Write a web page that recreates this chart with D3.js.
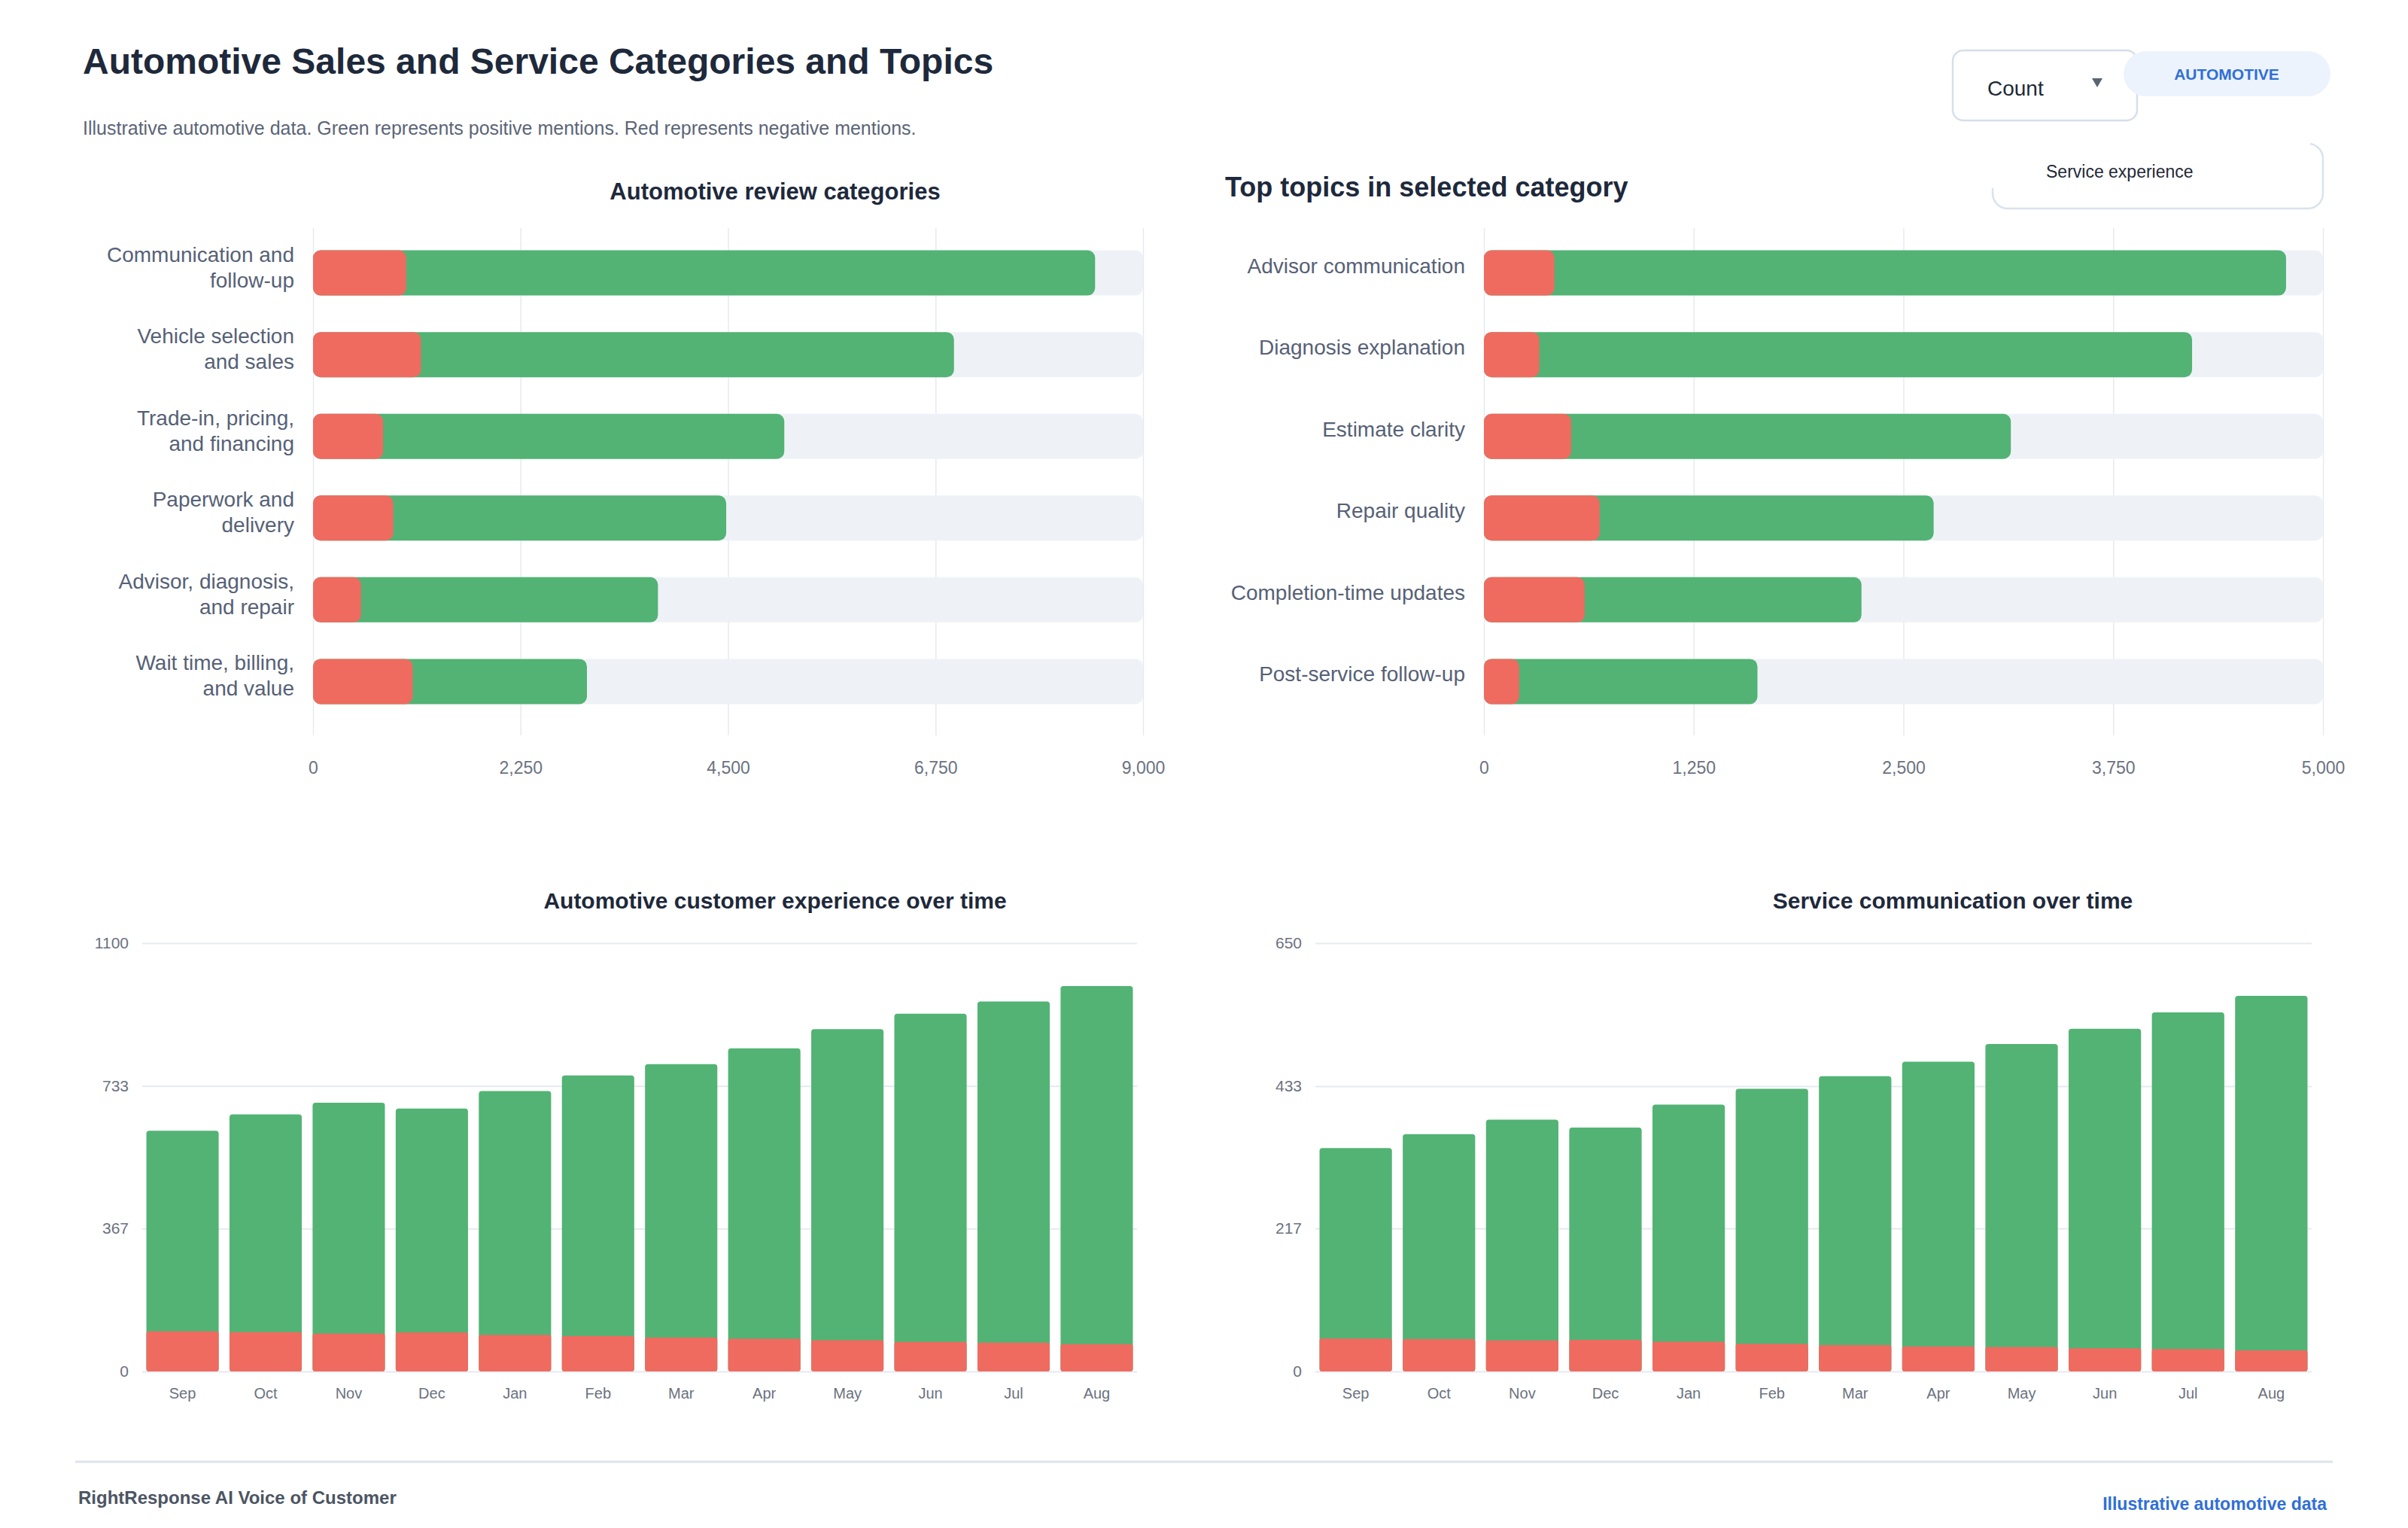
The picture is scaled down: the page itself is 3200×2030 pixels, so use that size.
<!DOCTYPE html>
<html>

<head>
    <meta charset="utf-8">
    <title>Automotive Sales and Service Categories and Topics</title>
    <style>
        body { margin: 0; background: #ffffff; }
        svg { display: block; font-family: "Liberation Sans", Arial, Helvetica, sans-serif; }
    </style>
</head>

<body>
    <svg id="painel" width="3200" height="2030"></svg>

    <script src="https://d3js.org/d3.v7.min.js"></script>
    <script>
        // categorias (grafico superior esquerdo)
        var categorias = [
            "Communication and\nfollow-up",
            "Vehicle selection\nand sales",
            "Trade-in, pricing,\nand financing",
            "Paperwork and\ndelivery",
            "Advisor, diagnosis,\nand repair",
            "Wait time, billing,\nand value"
        ];
        var categoriasPositivo = [7470, 5780, 4350, 3610, 3220, 1890];
        var categoriasNegativo = [1010, 1170, 760, 870, 520, 1080];
        var categoriasTicks = [0, 2250, 4500, 6750, 9000];

        // topicos da categoria selecionada (grafico superior direito)
        var topicos = [
            "Advisor communication",
            "Diagnosis explanation",
            "Estimate clarity",
            "Repair quality",
            "Completion-time updates",
            "Post-service follow-up"
        ];
        var topicosPositivo = [4360, 3890, 2620, 1990, 1650, 1420];
        var topicosNegativo = [420, 330, 520, 690, 600, 210];
        var topicosTicks = [0, 1250, 2500, 3750, 5000];

        // meses (graficos inferiores)
        var meses = ["Sep", "Oct", "Nov", "Dec", "Jan", "Feb", "Mar", "Apr", "May", "Jun", "Jul", "Aug"];
        var experienciaPositivo = [515, 559, 593, 575, 626, 669, 702, 746, 799, 843, 876, 920];
        var experienciaNegativo = [103, 101, 97, 100, 94, 91, 87, 84, 80, 76, 74, 70];
        var experienciaTicks = [0, 367, 733, 1100];

        var comunicacaoPositivo = [289, 311, 335, 322, 360, 387, 408, 432, 460, 485, 511, 538];
        var comunicacaoNegativo = [50, 49, 47, 48, 45, 42, 40, 38, 37, 35, 34, 32];
        var comunicacaoTicks = [0, 217, 433, 650];

        var verde = "#52b374";
        var vermelho = "#ef6b60";
        var trilho = "#eef2f7";
        var grade = "#e6eaf0";
        var textoEscuro = "#1e293b";
        var textoCinza = "#6b7280";
        var textoRotulo = "#566176";

        var svg = d3.select("#painel");

        // cabecalho
        svg.append("text")
            .attr("x", 110).attr("y", 98)
            .attr("font-size", 48).attr("font-weight", "bold")
            .attr("fill", textoEscuro)
            .text("Automotive Sales and Service Categories and Topics");

        svg.append("text")
            .attr("x", 110).attr("y", 179)
            .attr("font-size", 25)
            .attr("fill", "#5b6577")
            .text("Illustrative automotive data. Green represents positive mentions. Red represents negative mentions.");

        // controles no canto superior direito
        svg.append("rect")
            .attr("x", 2595).attr("y", 67).attr("width", 245).attr("height", 93).attr("rx", 14)
            .attr("fill", "#ffffff").attr("stroke", "#d6dfeb").attr("stroke-width", 2.5);
        svg.append("text")
            .attr("x", 2641).attr("y", 127)
            .attr("font-size", 28).attr("fill", "#1f2937")
            .text("Count");
        svg.append("path")
            .attr("d", "M2780,104 L2794,104 L2787,116 Z")
            .attr("fill", "#5b6473");

        svg.append("rect")
            .attr("x", 2822).attr("y", 68).attr("width", 275).attr("height", 60).attr("rx", 30)
            .attr("fill", "#edf3fc");
        svg.append("text")
            .attr("x", 2959).attr("y", 106)
            .attr("text-anchor", "middle")
            .attr("font-size", 21).attr("font-weight", "bold")
            .attr("fill", "#2f6fd6")
            .text("AUTOMOTIVE");

        svg.append("path")
            .attr("d", "M2648,250 V257 A20,20 0 0 0 2668,277 H3067 A20,20 0 0 0 3087,257 V211 A20,20 0 0 0 3070,191")
            .attr("fill", "none").attr("stroke", "#d9e2ee").attr("stroke-width", 2.5);
        svg.append("text")
            .attr("x", 2719).attr("y", 236)
            .attr("font-size", 23).attr("fill", "#1f2937")
            .text("Service experience");

        // grafico de barras horizontais
        function barrasHorizontais(cfg) {
            var g = svg.append("g");
            var total = cfg.positivo.map(function (d, i) { return d + cfg.negativo[i]; });

            var x = d3.scaleLinear()
                .domain([0, cfg.ticks[cfg.ticks.length - 1]])
                .range([cfg.x0, cfg.x1]);

            var y = d3.scaleBand()
                .domain(cfg.nomes)
                .range([300, 968])
                .paddingInner(0.447)
                .paddingOuter(0.3);

            // eixo com linhas de grade
            var eixo = g.append("g")
                .attr("transform", "translate(0," + 977 + ")")
                .call(d3.axisBottom(x)
                    .tickValues(cfg.ticks)
                    .tickFormat(d3.format(","))
                    .tickSize(-(977 - 303))
                    .tickPadding(35));
            eixo.select(".domain").remove();
            eixo.selectAll(".tick line").attr("stroke", grade).attr("stroke-width", 1.5);
            eixo.selectAll(".tick text")
                .attr("fill", textoCinza)
                .attr("font-size", 23)
                .attr("font-family", "\"Liberation Sans\", Arial, sans-serif");

            var linhas = g.selectAll(".linha")
                .data(cfg.nomes)
                .enter()
                .append("g")
                .attr("class", "linha");

            linhas.append("rect")
                .attr("x", x(0))
                .attr("y", function (d) { return y(d); })
                .attr("width", x.range()[1] - x(0))
                .attr("height", y.bandwidth())
                .attr("rx", 10)
                .attr("fill", trilho);

            linhas.append("rect")
                .attr("x", x(0))
                .attr("y", function (d) { return y(d); })
                .attr("width", function (d, i) { return x(total[i]) - x(0); })
                .attr("height", y.bandwidth())
                .attr("rx", 10)
                .attr("fill", verde);

            linhas.append("rect")
                .attr("x", x(0))
                .attr("y", function (d) { return y(d); })
                .attr("width", function (d, i) { return x(cfg.negativo[i]) - x(0); })
                .attr("height", y.bandwidth())
                .attr("rx", 10)
                .attr("fill", vermelho);

            // rotulos das categorias
            linhas.append("text")
                .attr("x", x(0) - 25)
                .attr("text-anchor", "end")
                .attr("font-size", 28)
                .attr("fill", textoRotulo)
                .each(function (d) {
                    var partes = d.split("\n");
                    var meio = y(d) + y.bandwidth() / 2 + (partes.length > 1 ? -8 : -10);
                    var t = d3.select(this);
                    partes.forEach(function (p, k) {
                        t.append("tspan")
                            .attr("x", x(0) - 25)
                            .attr("y", meio + (k - (partes.length - 1) / 2) * 34 + 10)
                            .text(p);
                    });
                });

            svg.append("text")
                .attr("x", cfg.tituloX).attr("y", cfg.tituloY)
                .attr("font-size", cfg.tituloTamanho).attr("font-weight", "bold")
                .attr("fill", textoEscuro)
                .attr("text-anchor", cfg.tituloAncora)
                .text(cfg.titulo);
        }

        barrasHorizontais({
            nomes: categorias,
            positivo: categoriasPositivo,
            negativo: categoriasNegativo,
            ticks: categoriasTicks,
            x0: 416, x1: 1519,
            titulo: "Automotive review categories",
            tituloX: 1030, tituloY: 265, tituloTamanho: 31, tituloAncora: "middle"
        });

        barrasHorizontais({
            nomes: topicos,
            positivo: topicosPositivo,
            negativo: topicosNegativo,
            ticks: topicosTicks,
            x0: 1972, x1: 3087,
            titulo: "Top topics in selected category",
            tituloX: 1628, tituloY: 261, tituloTamanho: 36, tituloAncora: "start"
        });

        // grafico de colunas empilhadas por mes
        function colunasMensais(cfg) {
            var g = svg.append("g");
            var total = cfg.positivo.map(function (d, i) { return d + cfg.negativo[i]; });

            var x = d3.scaleBand()
                .domain(meses)
                .range([cfg.x0, cfg.x1])
                .paddingInner(0.13)
                .paddingOuter(0.05);

            var y = d3.scaleLinear()
                .domain([0, cfg.ticks[cfg.ticks.length - 1]])
                .range([1822, 1253]);

            var eixoY = g.append("g")
                .attr("transform", "translate(" + cfg.x0 + ",0)")
                .call(d3.axisLeft(y)
                    .tickValues(cfg.ticks)
                    .tickFormat(d3.format("d"))
                    .tickSize(-(cfg.x1 - cfg.x0))
                    .tickPadding(18));
            eixoY.select(".domain").remove();
            eixoY.selectAll(".tick line").attr("stroke", grade).attr("stroke-width", 2);
            eixoY.selectAll(".tick text")
                .attr("fill", textoCinza)
                .attr("font-size", 21)
                .attr("font-family", "\"Liberation Sans\", Arial, sans-serif");

            var eixoX = g.append("g")
                .attr("transform", "translate(0," + 1822 + ")")
                .call(d3.axisBottom(x).tickSize(0).tickPadding(22));
            eixoX.select(".domain").remove();
            eixoX.selectAll(".tick text")
                .attr("fill", textoCinza)
                .attr("font-size", 20)
                .attr("font-family", "\"Liberation Sans\", Arial, sans-serif");

            g.selectAll(".positivo")
                .data(meses)
                .enter()
                .append("rect")
                .attr("class", "positivo")
                .attr("x", function (d) { return x(d); })
                .attr("y", function (d, i) { return y(total[i]); })
                .attr("width", x.bandwidth())
                .attr("height", function (d, i) { return y(0) - y(total[i]); })
                .attr("rx", 4)
                .attr("fill", verde);

            g.selectAll(".negativo")
                .data(meses)
                .enter()
                .append("rect")
                .attr("class", "negativo")
                .attr("x", function (d) { return x(d); })
                .attr("y", function (d, i) { return y(cfg.negativo[i]); })
                .attr("width", x.bandwidth())
                .attr("height", function (d, i) { return y(0) - y(cfg.negativo[i]); })
                .attr("rx", 3)
                .attr("fill", vermelho);

            svg.append("text")
                .attr("x", cfg.tituloX).attr("y", 1207)
                .attr("text-anchor", "middle")
                .attr("font-size", 30).attr("font-weight", "bold")
                .attr("fill", textoEscuro)
                .text(cfg.titulo);
        }

        colunasMensais({
            positivo: experienciaPositivo,
            negativo: experienciaNegativo,
            ticks: experienciaTicks,
            x0: 189, x1: 1511,
            titulo: "Automotive customer experience over time",
            tituloX: 1030
        });

        colunasMensais({
            positivo: comunicacaoPositivo,
            negativo: comunicacaoNegativo,
            ticks: comunicacaoTicks,
            x0: 1748, x1: 3072,
            titulo: "Service communication over time",
            tituloX: 2595
        });

        // rodape
        svg.append("line")
            .attr("x1", 100).attr("x2", 3100)
            .attr("y1", 1942).attr("y2", 1942)
            .attr("stroke", "#dde4ee").attr("stroke-width", 3);

        svg.append("text")
            .attr("x", 104).attr("y", 1998)
            .attr("font-size", 24).attr("font-weight", "bold")
            .attr("fill", "#4b5563")
            .text("RightResponse AI Voice of Customer");

        svg.append("text")
            .attr("x", 3092).attr("y", 2006)
            .attr("text-anchor", "end")
            .attr("font-size", 23).attr("font-weight", "bold")
            .attr("fill", "#2f6fd6")
            .text("Illustrative automotive data");
    </script>
</body>

</html>
